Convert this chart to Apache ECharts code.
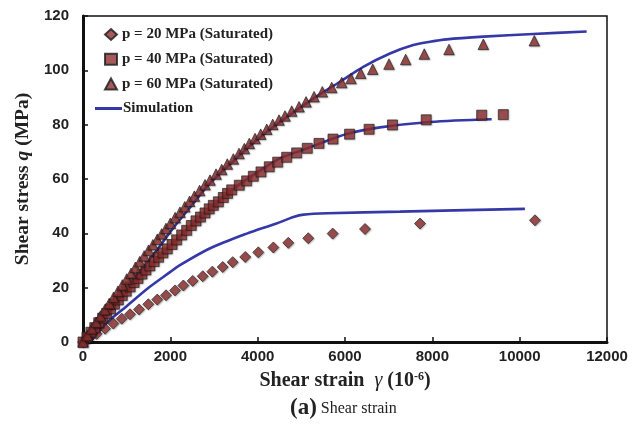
<!DOCTYPE html>
<html><head><meta charset="utf-8">
<script src="https://cdn.jsdelivr.net/npm/echarts@6/dist/echarts.min.js"></script>
<style>html,body{margin:0;padding:0;background:#fff}#c{width:638px;height:427px}</style>
</head><body><div id="c"></div>
<script>
// Measured data [strain (1e-6), shear stress q (MPa)]
var p20 = [[0,0],[130,1.2],[310,3.0],[504,4.9],[694,6.8],[886,8.6],[1076,10.2],[1282,12.0],[1495,13.9],[1701,15.6],[1901,17.2],[2107,19.0],[2297,20.8],[2512,22.5],[2741,24.2],[2961,25.9],[3199,27.6],[3428,29.4],[3716,31.3],[4014,33.0],[4358,34.8],[4701,36.5],[5159,38.2],[5718,39.9],[6458,41.6],[7717,43.6],[10350,44.8]];
var p40 = [[0,0],[90,1.8],[180,3.6],[270,5.3],[360,7.1],[450,8.8],[540,10.5],[630,12.2],[720,13.9],[810,15.5],[900,17.1],[990,18.7],[1080,20.3],[1170,21.9],[1260,23.4],[1350,25.0],[1440,26.5],[1530,28.0],[1630,29.6],[1730,31.2],[1830,32.8],[1930,34.3],[2040,35.9],[2145,37.6],[2260,39.4],[2374,41.1],[2480,42.9],[2588,44.6],[2690,46.0],[2794,47.5],[2890,49.0],[2984,50.3],[3100,51.6],[3213,53.2],[3310,54.7],[3405,56.0],[3579,57.7],[3748,59.3],[3900,61.0],[4076,62.6],[4266,64.5],[4458,66.2],[4664,68.0],[4893,69.6],[5136,71.3],[5404,73.1],[5725,74.7],[6105,76.5],[6552,78.3],[7087,79.9],[7860,81.8],[9130,83.5],[9625,83.7]];
var p60 = [[0,0],[100,2.4],[200,4.9],[300,7.3],[400,9.6],[500,11.9],[600,14.2],[700,16.5],[800,18.7],[900,21.0],[1000,23.2],[1100,25.3],[1200,27.5],[1300,29.6],[1400,31.7],[1500,33.8],[1600,35.8],[1700,37.8],[1800,39.8],[1900,41.8],[2000,43.7],[2110,45.8],[2220,47.8],[2330,49.8],[2440,51.8],[2550,53.7],[2670,55.8],[2794,57.9],[2908,59.6],[3046,61.8],[3176,63.5],[3304,65.5],[3442,67.4],[3572,69.4],[3694,71.2],[3808,73.1],[3939,74.9],[4069,76.5],[4207,78.3],[4344,80.1],[4488,81.7],[4625,83.2],[4779,85.0],[4946,86.6],[5107,88.4],[5290,90.3],[5480,92.1],[5695,93.7],[5924,95.5],[6137,97.0],[6359,98.9],[6634,100.4],[7007,102.3],[7389,104.0],[7815,106.0],[8381,107.7],[9167,109.6],[10335,110.9]];
var sim20 = [[160,0],[580,7.6],[1000,13.2],[1530,20.3],[2000,25.8],[2150,27.6],[2900,34.4],[3750,39.9],[4430,43.6],[4820,46.0],[5050,46.9],[5600,47.4],[7260,48.0],[10120,49.0]];
var sim40 = [[80,0],[500,9.5],[1000,18.6],[1500,27.2],[2000,35.5],[2500,43.2],[3000,50.3],[3500,57.0],[4000,62.5],[4511,67.6],[5000,70.5],[5500,73.5],[6037,76.6],[6801,79.0],[7946,81.0],[9359,82.0]];
var sim60 = [[120,0],[600,11.0],[1000,19.8],[1573,31.3],[2068,42.0],[2500,50.5],[2900,58.3],[3440,66.5],[3940,73.8],[4511,81.0],[5274,89.6],[5885,95.8],[6419,101.3],[7030,106.2],[7564,109.3],[7946,110.5],[8328,111.4],[9167,112.4],[10311,113.4],[11534,114.3]];
var names = ['p = 20 MPa (Saturated)','p = 40 MPa (Saturated)','p = 60 MPa (Saturated)','Simulation'];
var xTicks = {min:0, max:12000, interval:2000};
var yTicks = {min:0, max:120, interval:20};

var markerColor = '#8E2F2F';
var lineColor = '#3539A8';
var serif = 'Liberation Serif';
var sans = 'Liberation Sans';

function scatter(name, data, symbol, size){
  return {type:'scatter', name:name, data:data, symbol:symbol, symbolSize:size, z:5,
    itemStyle:{color:markerColor, borderColor:'#1a1a1a', borderWidth:0.8,
      shadowColor:'rgba(0,0,0,0.35)', shadowBlur:1.5, shadowOffsetX:0.8, shadowOffsetY:0.8}};
}
function sim(data){
  return {type:'line', name:names[3], data:data, showSymbol:false, symbol:'none', smooth:0.3, z:3,
    lineStyle:{color:lineColor, width:2.6}, itemStyle:{color:lineColor}};
}
var legendText = {fontFamily:serif, fontWeight:'bold', fontSize:15, color:'#222'};

var chart = echarts.init(document.getElementById('c'));
chart.setOption({
  animation:false,
  backgroundColor:'#fff',
  grid:{left:83, right:31, top:16, bottom:85, show:true, borderColor:'#111', borderWidth:1.5, containLabel:false},
  legend:[
    {orient:'vertical', left:104, top:27, padding:0, itemWidth:12, itemHeight:11, itemGap:9.7,
     textStyle:legendText,
     data:[{name:names[0], icon:'diamond'},{name:names[1], icon:'rect'},{name:names[2], icon:'triangle'}]},
    {orient:'vertical', left:95, top:101, padding:0, itemWidth:27, itemHeight:3, itemGap:8,
     textStyle:Object.assign({padding:[0,0,0,-4]}, legendText),
     data:[{name:names[3], icon:'rect', itemStyle:{color:lineColor, borderWidth:0}}]}
  ],
  xAxis:{type:'value', min:xTicks.min, max:xTicks.max, interval:xTicks.interval,
    axisLine:{show:true, lineStyle:{color:'#111', width:3}},
    axisTick:{show:true, inside:true, length:5, lineStyle:{color:'#111', width:1.5}},
    splitLine:{show:false},
    axisLabel:{fontFamily:sans, fontWeight:'bold', fontSize:15, color:'#222', margin:7,
      formatter:function(v){return String(v);}},
    name:'{b|Shear strain  }{g|γ}{b| (10}{s|-6}{b|)}', nameLocation:'middle', nameGap:29,
    nameTextStyle:{rich:{
      b:{fontFamily:serif, fontWeight:'bold', fontSize:20, color:'#222'},
      g:{fontFamily:serif, fontStyle:'italic', fontSize:20, color:'#222'},
      s:{fontFamily:serif, fontWeight:'bold', fontSize:12, color:'#222', verticalAlign:'top', lineHeight:10}}}},
  yAxis:{type:'value', min:yTicks.min, max:yTicks.max, interval:yTicks.interval,
    axisLine:{show:true, lineStyle:{color:'#111', width:3}},
    axisTick:{show:true, inside:true, length:5, lineStyle:{color:'#111', width:1.5}},
    splitLine:{show:false},
    axisLabel:{fontFamily:sans, fontWeight:'bold', fontSize:15, color:'#222', margin:14,
      formatter:function(v){return String(v);}},
    name:'{b|Shear stress }{i|q}{b| (MPa)}', nameLocation:'middle', nameGap:50, nameRotate:90,
    nameTextStyle:{rich:{
      b:{fontFamily:serif, fontWeight:'bold', fontSize:19.5, color:'#222'},
      i:{fontFamily:serif, fontWeight:'bold', fontStyle:'italic', fontSize:19.5, color:'#222'}}}},
  graphic:[{type:'text', left:290, top:397, style:{
    text:'{a|(a)}{s| Shear strain}', fill:'#222',
    rich:{a:{fontFamily:serif, fontWeight:'bold', fontSize:23, fill:'#222'},
          s:{fontFamily:serif, fontSize:16, fill:'#222'}}}}],
  series:[
    sim(sim20), sim(sim40), sim(sim60),
    scatter(names[0], p20, 'diamond', 11),
    scatter(names[1], p40, 'rect', 10),
    scatter(names[2], p60, 'triangle', 10.5)
  ]
});
</script></body></html>
